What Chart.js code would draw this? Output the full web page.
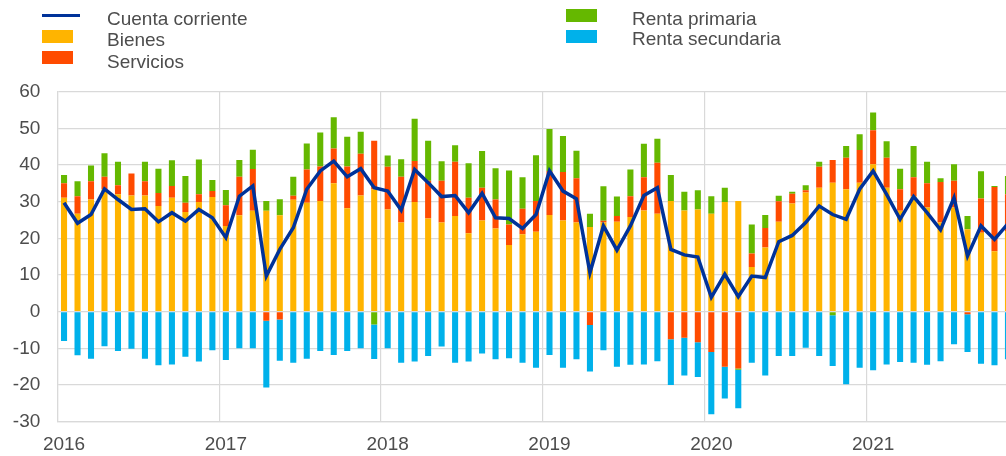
<!DOCTYPE html>
<html lang="es">
<head>
<meta charset="utf-8">
<script src="https://cdn.jsdelivr.net/npm/chart.js@4.4.0/dist/chart.umd.min.js"></script>
<style>
  html, body { margin: 0; padding: 0; background: #fff; overflow: hidden; }
  #wrap { position: relative; width: 1006px; height: 456px; overflow: hidden; }
  #chart { position: absolute; left: 0; top: 0; }
  .lg-text { position: absolute; font: 19px "Liberation Sans", Arial, sans-serif; line-height: 19px; color: #4d4d4d; white-space: nowrap; }
  .lg-sw { position: absolute; }
</style>
</head>
<body>
<div id="wrap">
  <canvas id="chart" width="1020" height="456"></canvas>
  <div id="legend"></div>
</div>
<script>
// Monthly categories, Jan 2016 - Nov 2021 (the source image is cropped after Oct 2021)
const years = [2016, 2017, 2018, 2019, 2020, 2021];
const months = [];
years.forEach(y => {
  for (let m = 1; m <= 12; m++) {
    if (y === 2021 && m > 11) break;
    months.push(y + "-" + String(m).padStart(2, "0"));
  }
});

// EUR bn
const bienes = [
  31.1, 26.7, 30.6, 33.4, 32.0, 31.7, 31.7, 28.8, 31.1, 27.2, 29.9, 31.3,
  23.4, 26.3, 27.5, 27.5, 26.3, 30.5, 29.7, 30.2, 35.0, 28.2, 31.7, 33.4,
  27.9, 24.3, 29.9, 25.4, 24.3, 26.1, 21.4, 24.9, 22.7, 18.2, 21.1, 21.8,
  26.4, 24.9, 24.3, 23.1, 24.3, 24.5, 25.8, 27.6, 26.7, 30.2, 27.6, 27.9,
  26.7, 29.9, 30.2, 12.2, 17.5, 24.5, 29.5, 32.5, 33.8, 35.2, 33.4, 35.2,
  40.2, 33.8, 27.5, 31.5, 28.4, 24.3, 28.4, 22.5, 21.5, 16.5, 22.0
];
const servicios = [
  3.9, 4.8, 5.0, 3.4, 2.5, 6.0, 3.9, 3.6, 3.2, 2.5, 2.1, 1.6,
  5.6, 10.5, 11.4, -2.5, -2.1, 1.1, 9.1, 9.4, 9.5, 11.4, 11.4, 13.2,
  11.6, 12.5, 11.2, 10.3, 11.4, 14.8, 9.7, 8.9, 7.9, 5.6, 7.0, 8.4,
  12.0, 13.2, 12.1, -3.6, 0.5, 1.6, 5.7, 9.1, 13.9, -7.5, -7.1, -8.3,
  -11.0, -15.0, -15.5, 3.7, 5.3, 5.6, 2.7, 0.6, 5.7, 6.2, 8.6, 8.9,
  9.3, 8.2, 5.9, 5.2, 6.6, 11.1, 7.3, -0.7, 9.4, 17.5, 10.0
];
const rentaPrimaria = [
  2.3, 4.1, 4.3, 6.4, 6.4, 0.0, 5.3, 6.6, 7.0, 7.3, 9.5, 3.0,
  4.2, 4.6, 5.3, 2.7, 4.4, 5.2, 7.1, 9.3, 8.5, 8.1, 6.0, -3.5,
  3.1, 4.8, 11.5, 10.9, 5.3, 4.5, 9.4, 10.0, 8.5, 14.7, 8.6, 12.5,
  11.4, 9.8, 7.5, 3.6, 9.4, 5.3, 7.3, 9.1, 6.6, 7.1, 5.1, 5.2,
  4.8, 3.9, -0.3, 7.9, 3.6, 1.5, 0.5, 1.4, 1.4, -1.0, 3.2, 4.3,
  4.8, 4.5, 5.6, 8.5, 5.9, 1.0, 4.5, 3.6, 7.4, 0.3, 5.0
];
const rentaSecundaria = [
  -8.0, -11.9, -12.8, -9.4, -10.7, -10.1, -12.8, -14.6, -14.4, -12.3, -13.6, -10.5,
  -13.2, -10.0, -10.0, -18.2, -11.3, -13.9, -12.8, -10.7, -11.8, -10.7, -10.0, -9.4,
  -10.0, -13.9, -13.6, -12.1, -9.5, -13.9, -13.6, -11.4, -13.0, -12.7, -13.9, -15.3,
  -11.8, -15.3, -13.0, -12.7, -10.5, -15.0, -14.5, -14.4, -13.5, -12.5, -10.3, -9.5,
  -17.0, -8.7, -10.5, -13.9, -17.4, -12.1, -12.1, -9.8, -12.1, -13.8, -19.8, -15.3,
  -16.0, -14.4, -13.7, -13.9, -14.5, -13.5, -8.9, -10.3, -14.2, -14.6, -13.0
];
const cuentaCorriente = [
  29.7, 24.1, 26.5, 33.5, 30.6, 27.9, 28.1, 24.5, 27.0, 24.7, 27.9, 25.6,
  20.2, 31.5, 34.3, 9.7, 17.0, 22.9, 33.4, 38.4, 41.1, 36.8, 39.0, 33.8,
  32.9, 27.7, 38.8, 35.2, 31.4, 31.7, 27.0, 32.3, 25.6, 25.4, 22.7, 26.5,
  38.4, 32.9, 30.8, 10.6, 23.4, 16.8, 23.4, 31.7, 33.8, 17.0, 15.5, 14.9,
  3.9, 10.2, 4.1, 9.7, 9.3, 19.1, 20.8, 24.3, 28.8, 26.5, 25.2, 33.4,
  38.4, 32.0, 25.2, 31.4, 27.0, 22.3, 31.1, 15.2, 23.4, 19.7, 24.0
];

Chart.defaults.font.family = '"Liberation Sans", Arial, sans-serif';
Chart.defaults.font.size = 19;
Chart.defaults.color = "#4d4d4d";

const gridColor = "#d9d9d9";

const chart = new Chart(document.getElementById("chart"), {
  type: "bar",
  data: {
    labels: months,
    datasets: [
      {
        type: "line",
        label: "Cuenta corriente",
        data: cuentaCorriente,
        borderColor: "#003299",
        backgroundColor: "#003299",
        borderWidth: 3.5,
        pointRadius: 0,
        tension: 0,
        stack: "cc",
        order: 0
      },
      { label: "Bienes", data: bienes, backgroundColor: "#ffb400", order: 1 },
      { label: "Servicios", data: servicios, backgroundColor: "#ff4b00", order: 1 },
      { label: "Renta primaria", data: rentaPrimaria, backgroundColor: "#65b800", order: 1 },
      { label: "Renta secundaria", data: rentaSecundaria, backgroundColor: "#00b1ea", order: 1 }
    ]
  },
  options: {
    responsive: false,
    animation: false,
    layout: { padding: { top: 91.7, right: 3.5, bottom: 0, left: 0 } },
    datasets: { bar: { categoryPercentage: 1, barPercentage: 0.45 } },
    plugins: { legend: { display: false }, tooltip: { enabled: false } },
    scales: {
      x: {
        stacked: true,
        offset: true,
        grid: {
          offset: true,
          drawTicks: false,
          lineWidth: 1.2,
          // only year boundaries get a vertical line
          color: c => (c.index % 12 === 0 ? gridColor : "rgba(0,0,0,0)")
        },
        border: { color: gridColor, width: 1.2 },
        ticks: {
          autoSkip: false,
          maxRotation: 0,
          padding: 12,
          callback: (v, i) => (months[i].endsWith("-01") ? months[i].slice(0, 4) : "")
        },
        afterFit: s => { s.height = 34.3; }
      },
      y: {
        stacked: true,
        min: -30,
        max: 60,
        ticks: { stepSize: 10, padding: 17 },
        grid: { drawTicks: false, color: gridColor, lineWidth: 1.2 },
        border: { color: gridColor, width: 1.2 },
        afterFit: s => { s.width = 57.3; }
      }
    }
  }
});

// HTML legend in two columns, like the original
const legendSlots = {
  "Cuenta corriente": { x: 42, y: 13.5, w: 38, h: 3.5, tx: 107, ty: 8.7 },
  "Bienes":           { x: 42, y: 30,   w: 31, h: 13,  tx: 107, ty: 30 },
  "Servicios":        { x: 42, y: 51,   w: 31, h: 13,  tx: 107, ty: 51.7 },
  "Renta primaria":   { x: 566, y: 9,   w: 31, h: 13,  tx: 632, ty: 9 },
  "Renta secundaria": { x: 566, y: 30,  w: 31, h: 13,  tx: 632, ty: 29.4 }
};
const legend = document.getElementById("legend");
chart.data.datasets.forEach(ds => {
  const s = legendSlots[ds.label];
  const sw = document.createElement("div");
  sw.className = "lg-sw";
  sw.style.cssText = `left:${s.x}px;top:${s.y}px;width:${s.w}px;height:${s.h}px;background:${ds.type === "line" ? ds.borderColor : ds.backgroundColor}`;
  const tx = document.createElement("div");
  tx.className = "lg-text";
  tx.style.cssText = `left:${s.tx}px;top:${s.ty}px`;
  tx.textContent = ds.label;
  legend.appendChild(sw);
  legend.appendChild(tx);
});
</script>
</body>
</html>
